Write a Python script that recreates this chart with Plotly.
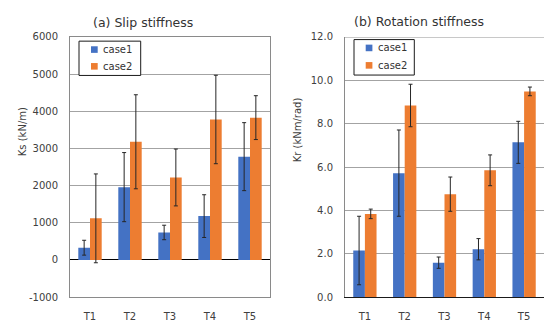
import plotly.graph_objects as go

# ---------------- data ----------------
categories = ["T1", "T2", "T3", "T4", "T5"]
series_names = ["case1", "case2"]

slip_case1 = [330, 1960, 740, 1180, 2780]
slip_case1_err = [200, 930, 195, 575, 915]
slip_case2 = [1120, 3180, 2220, 3780, 3830]
slip_case2_err = [1195, 1265, 765, 1190, 590]

rot_case1 = [2.15, 5.72, 1.59, 2.21, 7.14]
rot_case1_err = [1.58, 1.99, 0.26, 0.49, 0.97]
rot_case2 = [3.84, 8.84, 4.75, 5.85, 9.49]
rot_case2_err = [0.22, 0.98, 0.79, 0.71, 0.20]

slip_ticks = [-1000, 0, 1000, 2000, 3000, 4000, 5000, 6000]
slip_tick_labels = ["-1000", "0", "1000", "2000", "3000", "4000", "5000", "6000"]
rot_ticks = [0, 2, 4, 6, 8, 10, 12]
rot_tick_labels = ["0.0", "2.0", "4.0", "6.0", "8.0", "10.0", "12.0"]

titles = ["(a) Slip stiffness", "(b) Rotation stiffness"]
y_titles = ["Ks (kN/m)", "Kr (kNm/rad)"]

# ---------------- style ----------------
W, H = 544, 322
BLUE = "#4472C4"
ORANGE = "#ED7D31"
FONT = "DejaVu Sans"
TXT = "#404040"
GRID = "#a3a3a3"
FRAME = "#8a8a8a"
ERR = "#262626"


def px(x):
    return x / W


def py(y):
    return 1 - y / H


fig = go.Figure()

panels = [
    ("x", "y", slip_case1, slip_case1_err, slip_case2, slip_case2_err),
    ("x2", "y2", rot_case1, rot_case1_err, rot_case2, rot_case2_err),
]
for xa, ya, v1, e1, v2, e2 in panels:
    for name, vals, errs, col in [(series_names[0], v1, e1, BLUE), (series_names[1], v2, e2, ORANGE)]:
        fig.add_trace(go.Bar(
            x=categories, y=vals, name=name, xaxis=xa, yaxis=ya,
            marker=dict(color=col, line=dict(width=0)),
            error_y=dict(type="data", array=errs, visible=True,
                         color=ERR, thickness=1, width=2),
            showlegend=False,
        ))

ydom = [py(301.5), py(33)]
axis_font = dict(family=FONT, size=10, color=TXT)

fig.update_layout(
    width=W, height=H,
    margin=dict(l=0, r=0, t=0, b=0),
    paper_bgcolor="white", plot_bgcolor="white",
    barmode="group", bargap=0.415, bargroupgap=0,
    font=dict(family=FONT, size=10, color=TXT),
    xaxis=dict(domain=[px(70), px(270)], anchor="y", showgrid=False,
               tickfont=axis_font, ticks="", showline=True, mirror=True,
               linecolor=FRAME, linewidth=1, ticklabelstandoff=10),
    yaxis=dict(domain=ydom, anchor="x", range=[-1000, 6000],
               tickvals=slip_ticks, ticktext=slip_tick_labels,
               tickfont=axis_font, ticks="", showgrid=True, gridcolor=GRID,
               gridwidth=1, zeroline=True, zerolinecolor="#000000",
               zerolinewidth=1, showline=True, mirror=True,
               linecolor=FRAME, linewidth=1, ticklabelstandoff=9),
    xaxis2=dict(domain=[px(345), 1.0], anchor="y2", showgrid=False,
                tickfont=axis_font, ticks="", showline=True, mirror=False,
                linecolor="#1a1a1a", linewidth=1, ticklabelstandoff=10),
    yaxis2=dict(domain=ydom, anchor="x2", range=[0, 12],
                tickvals=rot_ticks, ticktext=rot_tick_labels,
                tickfont=axis_font, ticks="", showgrid=True, gridcolor=GRID,
                gridwidth=1, zeroline=False, showline=True, mirror=False,
                linecolor=FRAME, linewidth=1, ticklabelstandoff=9),
)

shapes = []
annotations = []

# top border of right panel
shapes.append(dict(type="line", xref="x2 domain", yref="y2", x0=0, x1=1,
                   y0=12, y1=12, line=dict(color=FRAME, width=1)))

# chart titles
annotations.append(dict(text=titles[0], x=px(143.3), y=py(18.3), xref="paper", yref="paper",
                        showarrow=False, xanchor="center", yanchor="middle",
                        font=dict(family=FONT, size=12.5, color="#333333")))
annotations.append(dict(text=titles[1], x=px(418.7), y=py(17), xref="paper", yref="paper",
                        showarrow=False, xanchor="center", yanchor="middle",
                        font=dict(family=FONT, size=12.5, color="#333333")))
# y axis titles
annotations.append(dict(text=y_titles[0], x=px(23.3), y=py(131), xref="paper", yref="paper",
                        showarrow=False, textangle=-90, xanchor="center", yanchor="middle",
                        font=dict(family=FONT, size=10, color=TXT)))
annotations.append(dict(text=y_titles[1], x=px(298.3), y=py(129), xref="paper", yref="paper",
                        showarrow=False, textangle=-90, xanchor="center", yanchor="middle",
                        font=dict(family=FONT, size=10, color=TXT)))

# manual legends
legends = [
    dict(box=(79, 37.3, 140.7, 72.7), sw_x=91, txt_x=101, rows=(46, 63.3)),
    dict(box=(354, 35.7, 414.3, 72.3), sw_x=365.7, txt_x=375.7, rows=(44.3, 62.3)),
]
for lg in legends:
    x0, y0, x1, y1 = lg["box"]
    shapes.append(dict(type="rect", xref="paper", yref="paper",
                       x0=px(x0), x1=px(x1), y0=py(y0), y1=py(y1),
                       line=dict(color="#1a1a1a", width=1), fillcolor="white"))
    for name, col, yc in zip(series_names, [BLUE, ORANGE], lg["rows"]):
        shapes.append(dict(type="rect", xref="paper", yref="paper",
                           x0=px(lg["sw_x"]), x1=px(lg["sw_x"] + 6.7),
                           y0=py(yc - 3.4), y1=py(yc + 3.4),
                           line=dict(width=0), fillcolor=col))
        annotations.append(dict(text=name, x=px(lg["txt_x"]), y=py(yc), xref="paper", yref="paper",
                                showarrow=False, xanchor="left", yanchor="middle",
                                font=dict(family=FONT, size=10, color="#333333")))

fig.update_layout(shapes=shapes, annotations=annotations)

fig.write_html("out.html")
